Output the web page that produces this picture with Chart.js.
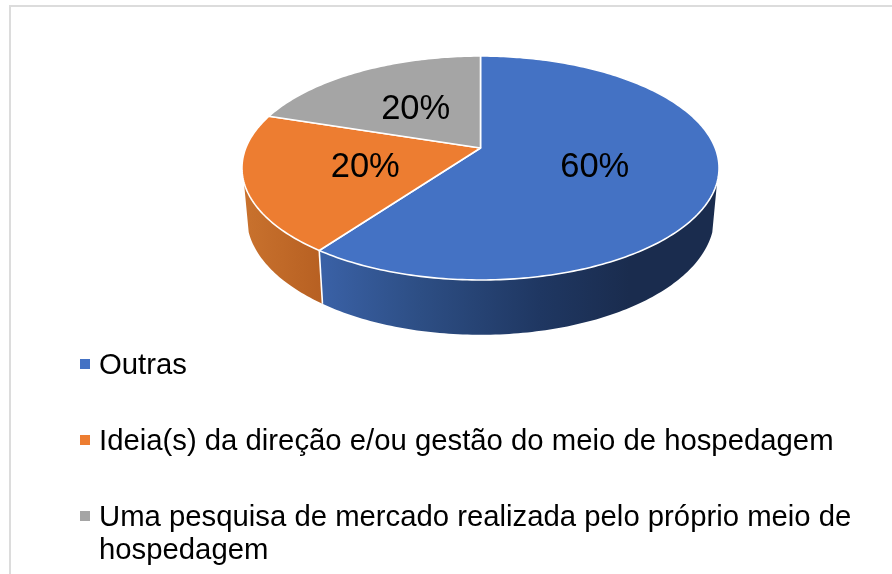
<!DOCTYPE html>
<html>
<head>
<meta charset="utf-8">
<script src="https://cdn.jsdelivr.net/npm/chart.js@4"></script>
<style>
  html, body { margin: 0; padding: 0; background: #fff; overflow: hidden; }
  #frame { position: absolute; left: 9px; top: 5px; width: 883px; height: 569px; border-left: 2px solid #dcdcdc; border-top: 2px solid #dcdcdc; box-sizing: border-box; }
  #grafica { position: absolute; left: 0; top: 0; }
</style>
</head>
<body>
<div id="frame"></div>
<canvas id="grafica" width="892" height="574"></canvas>
<script>
const categorias = [
  'Outras',
  'Ideia(s) da direção e/ou gestão do meio de hospedagem',
  'Uma pesquisa de mercado realizada pelo próprio meio de hospedagem'
];
const valores = [60, 20, 20];
const cores = ['#4472c4', '#ed7d31', '#a5a5a5'];

const FONTE = '"Liberation Sans", Arial, sans-serif';

// perspectiva do disco: topo e base da pizza 3D
const topo = { cx: 480.5, cy: 148, a: 234.7, b: 108.4, k: -0.1786 };
const base = { cx: 480.5, cy: 196, a: 230, b: 114, k: -0.1786 };
const paredeIni = 17.5 * Math.PI / 180;
const paredeFim = 162.5 * Math.PI / 180;

// sombreado da parede lateral de cada fatia [x, cor]
const sombras = [
  [[322, '#3a61a6'], [420, '#2d4e84'], [540, '#1f3762'], [630, '#1a2c4e']],
  [[243, '#c9722e'], [322, '#b76022']],
  [[243, '#8a8a8a'], [322, '#808080']]
];

function projeta(d, ang, r) {
  const u = Math.cos(ang) * r, v = Math.sin(ang) * r;
  const w = 1 + d.k * v;
  return [d.cx + d.a * u / w, d.cy + d.b * v / w];
}

function tracaBorda(ctx, d, a0, a1) {
  const passos = Math.max(2, Math.ceil(Math.abs(a1 - a0) * 60));
  for (let i = 0; i <= passos; i++) {
    const p = projeta(d, a0 + (a1 - a0) * i / passos, 1);
    ctx.lineTo(p[0], p[1]);
  }
}

const pizza3d = {
  id: 'pizza3d',
  beforeDatasetDraw(chart) {
    const ctx = chart.ctx;
    const arcos = chart.getDatasetMeta(0).data;
    ctx.save();
    ctx.lineJoin = 'round';

    // paredes
    arcos.forEach((arco, i) => {
      const a0 = Math.max(arco.startAngle, paredeIni);
      const a1 = Math.min(arco.endAngle, paredeFim);
      if (a1 <= a0) return;
      const x0 = sombras[i][0][0], x1 = sombras[i][sombras[i].length - 1][0];
      const g = ctx.createLinearGradient(x0, 0, x1, 0);
      sombras[i].forEach(s => g.addColorStop((s[0] - x0) / (x1 - x0), s[1]));
      ctx.beginPath();
      tracaBorda(ctx, topo, a0, a1);
      tracaBorda(ctx, base, a1, a0);
      ctx.closePath();
      ctx.fillStyle = g;
      ctx.fill();
    });

    // divisao branca entre as paredes
    arcos.forEach(arco => {
      if (arco.endAngle > paredeIni && arco.endAngle < paredeFim) {
        const p = projeta(topo, arco.endAngle, 1), q = projeta(base, arco.endAngle, 1);
        ctx.beginPath();
        ctx.moveTo(p[0], p[1]);
        ctx.lineTo(q[0], q[1]);
        ctx.strokeStyle = '#fff';
        ctx.lineWidth = 1.6;
        ctx.stroke();
      }
    });

    // tampo
    arcos.forEach((arco, i) => {
      ctx.beginPath();
      ctx.moveTo(topo.cx, topo.cy);
      tracaBorda(ctx, topo, arco.startAngle, arco.endAngle);
      ctx.closePath();
      ctx.fillStyle = cores[i];
      ctx.fill();
      ctx.strokeStyle = '#fff';
      ctx.lineWidth = 1.6;
      ctx.stroke();
    });

    // rotulos
    const total = valores.reduce((a, b) => a + b, 0);
    ctx.fillStyle = '#000';
    ctx.font = '34.5px ' + FONTE;
    ctx.textAlign = 'center';
    ctx.textBaseline = 'middle';
    arcos.forEach((arco, i) => {
      const p = projeta(topo, (arco.startAngle + arco.endAngle) / 2, 0.5);
      ctx.fillText(Math.round(valores[i] / total * 100) + '%', p[0] - 0.5, p[1] + 2);
    });
    ctx.restore();
    return false;
  },
  afterDraw(chart) {
    const ctx = chart.ctx;
    const linhas = [366, 442, 518];
    ctx.save();
    ctx.font = '29.3px ' + FONTE;
    ctx.textAlign = 'left';
    ctx.textBaseline = 'middle';
    categorias.forEach((texto, i) => {
      ctx.fillStyle = cores[i];
      ctx.fillRect(80, linhas[i] - 7, 10, 10);
      ctx.fillStyle = '#000';
      let linha = '', y = linhas[i];
      texto.split(' ').forEach(palavra => {
        const tenta = linha ? linha + ' ' + palavra : palavra;
        if (ctx.measureText(tenta).width > 770) {
          ctx.fillText(linha, 99, y);
          linha = palavra;
          y += 33;
        } else {
          linha = tenta;
        }
      });
      ctx.fillText(linha, 99, y);
    });
    ctx.restore();
  }
};

new Chart(document.getElementById('grafica'), {
  type: 'pie',
  data: {
    labels: categorias,
    datasets: [{ data: valores, backgroundColor: cores }]
  },
  plugins: [pizza3d],
  options: {
    animation: false,
    responsive: false,
    plugins: {
      legend: { display: false },
      tooltip: { enabled: false }
    }
  }
});
</script>
</body>
</html>
